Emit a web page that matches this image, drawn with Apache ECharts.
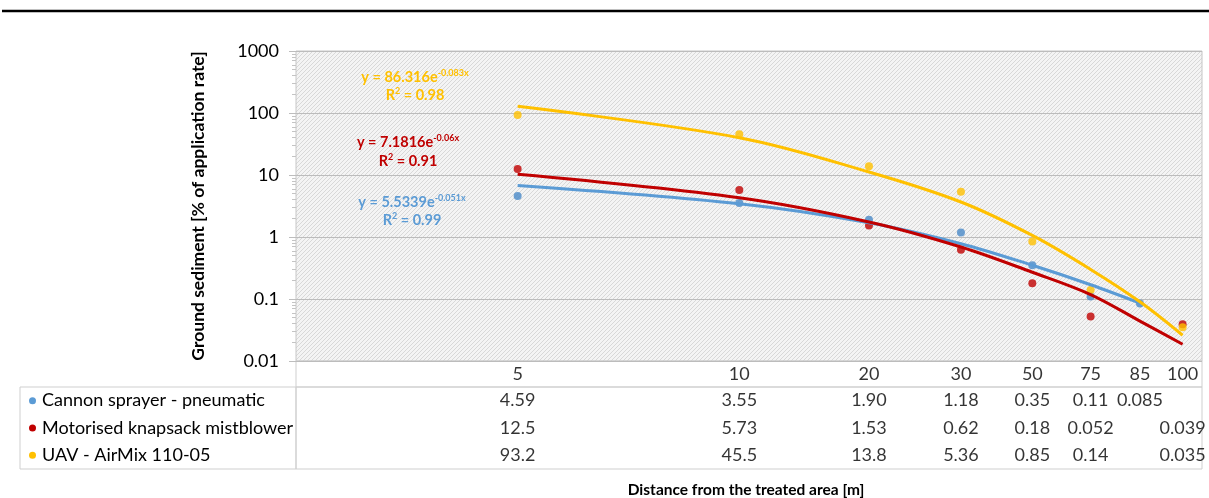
<!DOCTYPE html>
<html><head><meta charset="utf-8">
<script src="https://cdn.jsdelivr.net/npm/echarts@6/dist/echarts.min.js"></script>
<style>html,body{margin:0;padding:0;background:#fff}#c{width:1209px;height:498px}</style>
</head><body><div id="c"></div>
<script>
// ---- data ----
const distances = ['5', '10', '20', '30', '50', '75', '85', '100'];
const seriesNames = ['Cannon sprayer - pneumatic', 'Motorised knapsack mistblower', 'UAV - AirMix 110-05'];
const cannon   = [4.59, 3.55, 1.90, 1.18, 0.35, 0.11, 0.085, null];
const knapsack = [12.5, 5.73, 1.53, 0.62, 0.18, 0.052, null, 0.039];
const uav      = [93.2, 45.5, 13.8, 5.36, 0.85, 0.14, null, 0.035];
// trend curves
const cannonTrend   = [6.8, 3.45, 1.7, 0.78, 0.35, 0.17, 0.086, null];
const knapsackTrend = [10.3, 4.3, 1.75, 0.69, 0.27, 0.118, 0.044, 0.0186];
const uavTrend      = [128, 40, 11.2, 3.67, 1.06, 0.30, 0.09, 0.026];
const equationA  = ['5.5339', '7.1816', '86.316'];
const equationB  = ['-0.051x', '-0.06x', '-0.083x'];
const equationR2 = ['0.99', '0.91', '0.98'];
const yMin = 0.01, yMax = 1000;

// ---- styling ----
const colors = ['#5B9BD5', '#C00000', '#FFC000'];
const dotColors = ['#4A89C8', '#C00000', '#FFC000'];
const FONT = 'Lato';
const values = [cannon, knapsack, uav];
const trends = [cannonTrend, knapsackTrend, uavTrend];

function pairs(arr) { return arr.map((v, i) => v == null ? null : [i + 1, v]).filter(Boolean); }
function fmt(v) { return v >= 1 ? v.toPrecision(3) : v.toPrecision(2); }

// hatched background pattern
const pc = document.createElement('canvas');
pc.width = 4; pc.height = 4;
const pctx = pc.getContext('2d');
pctx.fillStyle = '#f4f4f4'; pctx.fillRect(0, 0, 4, 4);
pctx.fillStyle = '#d8d8d8';
for (let i = 0; i < 4; i++) pctx.fillRect(i, 3 - i, 1, 1);

// minor tick positions (log-decade decoration)
const minorTicks = [];
for (let n = -2; n < 3; n++) for (let k = 2; k <= 9; k++) minorTicks.push(n + Math.log10(k));

const chart = echarts.init(document.getElementById('c'), null, { renderer: 'canvas' });

const grids = [
  { left: 296, right: 7, top: 51, bottom: 137, show: true, backgroundColor: { image: pc, repeat: 'repeat' }, borderColor: '#c6c6c6', borderWidth: 1 },
  { left: 296, right: 7, top: 361, height: 26, show: true, borderColor: '#cfcfcf', borderWidth: 1 },
  { left: 296, right: 7, top: 387, bottom: 29, show: true, borderColor: '#cfcfcf', borderWidth: 1 },
  { left: 20, right: 913, top: 387, bottom: 29, show: true, borderColor: '#cfcfcf', borderWidth: 1 }
];

const hiddenLogX = (gi) => ({ type: 'log', gridIndex: gi, min: 0.5, max: 8.5, logBase: 10, show: false });

const xAxes = [hiddenLogX(0), hiddenLogX(1), hiddenLogX(2), { type: 'value', gridIndex: 3, show: false }];

const yAxes = [
  {
    type: 'log', gridIndex: 0, min: yMin, max: yMax, logBase: 10, splitNumber: 5,
    axisLine: { show: false },
    axisTick: { show: true, length: 7, lineStyle: { color: '#bdbdbd' } },
    axisLabel: { formatter: v => String(v), fontFamily: FONT, fontSize: 18, color: '#000', margin: 17 },
    splitLine: { show: true, lineStyle: { color: '#bcbcbc', width: 1 } },
    name: 'Ground sediment [% of application rate]', nameLocation: 'middle', nameGap: 89, nameRotate: 90,
    nameTextStyle: { fontFamily: FONT, fontWeight: 'bold', fontSize: 17.5, color: '#000' }
  },
  {
    type: 'value', gridIndex: 0, min: -2, max: 3, position: 'left',
    axisLine: { show: false }, axisLabel: { show: false }, splitLine: { show: false },
    axisTick: { show: true, customValues: minorTicks, length: 4, lineStyle: { color: '#c4c4c4' } }
  },
  { type: 'category', gridIndex: 1, data: [''], show: false },
  { type: 'category', gridIndex: 2, data: seriesNames, inverse: true, show: false },
  {
    type: 'category', gridIndex: 3, data: seriesNames, inverse: true,
    axisLine: { show: false }, axisTick: { show: false }, splitLine: { show: false },
    axisLabel: {
      inside: true, margin: 9,
      formatter: (v, i) => '{d' + i + '| }{t|' + v + '}',
      rich: {
        d0: { width: 7, height: 7, borderRadius: 4, backgroundColor: colors[0] },
        d1: { width: 7, height: 7, borderRadius: 4, backgroundColor: colors[1] },
        d2: { width: 7, height: 7, borderRadius: 4, backgroundColor: colors[2] },
        t: { fontFamily: FONT, fontSize: 18, color: '#000', padding: [0, 0, 0, 6] }
      }
    }
  }
];

const series = [];
// scatter dots
values.forEach((arr, s) => {
  series.push({
    name: seriesNames[s], type: 'scatter', xAxisIndex: 0, yAxisIndex: 0,
    data: pairs(arr), symbolSize: 8, itemStyle: { color: dotColors[s] }, z: 2
  });
});
// trend curves
trends.forEach((arr, s) => {
  series.push({
    type: 'line', xAxisIndex: 0, yAxisIndex: 0, data: pairs(arr), smooth: 0.35,
    showSymbol: false, lineStyle: { width: 3, color: colors[s] }, itemStyle: { color: colors[s] }, z: 3
  });
});
// header row (distances)
series.push({
  type: 'scatter', xAxisIndex: 1, yAxisIndex: 2, symbolSize: 1, itemStyle: { color: 'rgba(0,0,0,0)' },
  data: distances.map((d, i) => ({ value: [i + 1, 0], name: d })),
  label: { show: true, position: 'inside', formatter: p => p.name, fontFamily: FONT, fontSize: 18, color: '#000' }
});
// table values
values.forEach((arr, s) => {
  series.push({
    type: 'scatter', xAxisIndex: 2, yAxisIndex: 3, symbolSize: 1, itemStyle: { color: 'rgba(0,0,0,0)' },
    data: arr.map((v, i) => v == null ? null : { value: [i + 1, s], txt: fmt(v) }).filter(Boolean),
    label: { show: true, position: 'inside', formatter: p => p.data.txt, fontFamily: FONT, fontSize: 18, color: '#000' }
  });
});

// equation annotations
function eqText(s, cx, y1, y2) {
  const c = colors[s];
  const rich = {
    m: { fontFamily: FONT, fontSize: 14.5, fontWeight: 'bold', fill: c, lineHeight: 17 },
    s: { fontFamily: FONT, fontSize: 9, fontWeight: 'bold', fill: c, lineHeight: 9, verticalAlign: 'top' }
  };
  return [
    { type: 'text', x: cx, y: y1, style: { text: '{m|y = ' + equationA[s] + 'e}{s|' + equationB[s] + '}', rich, fill: c, align: 'center', verticalAlign: 'middle' } },
    { type: 'text', x: cx, y: y2, style: { text: '{m|R}{s|2}{m| = ' + equationR2[s] + '}', rich, fill: c, align: 'center', verticalAlign: 'middle' } }
  ];
}

const graphics = [].concat(
  eqText(2, 415, 77, 95),
  eqText(1, 408, 142, 161),
  eqText(0, 412, 202, 220),
  [
    { type: 'text', x: 746, y: 490, style: { text: 'Distance from the treated area [m]', fontFamily: FONT, fontSize: 15.5, fontWeight: 'bold', fill: '#000', align: 'center', verticalAlign: 'middle' } },
    { type: 'line', shape: { x1: 2, y1: 11, x2: 1209, y2: 11 }, style: { stroke: '#000', lineWidth: 2.5 } }
  ]
);

chart.setOption({
  animation: false,
  backgroundColor: '#fff',
  grid: grids,
  xAxis: xAxes,
  yAxis: yAxes,
  series: series,
  graphic: graphics
});
</script></body></html>
